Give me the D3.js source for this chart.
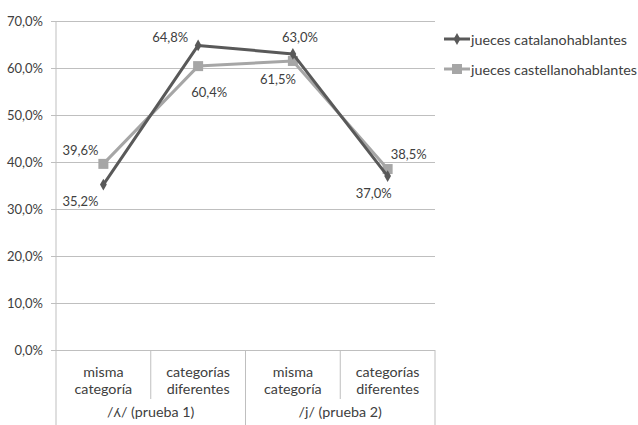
<!DOCTYPE html>
<html>
<head>
<meta charset="utf-8">
<script src="https://cdn.jsdelivr.net/npm/d3@7"></script>
<style>
  html, body { margin: 0; padding: 0; background: #fff; }
  svg { display: block; }
  text { font-family: Lato, "Open Sans", "Liberation Sans", sans-serif; fill: #404040; }
</style>
</head>
<body>
<svg id="chart" width="638" height="425"></svg>
<script>
// Categories: inner (condition) and outer (test) levels
const categories = ["misma categoría", "categorías diferentes", "misma categoría", "categorías diferentes"];
const groups = ["/ʎ/ (prueba 1)", "/j/ (prueba 2)"];
const seriesNames = ["jueces catalanohablantes", "jueces castellanohablantes"];
const catalanValues = [35.2, 64.8, 63.0, 37.0];
const castellanoValues = [39.6, 60.4, 61.5, 38.5];
const yTicks = [0, 10, 20, 30, 40, 50, 60, 70];

const svg = d3.select("#chart");
const plotLeft = 56, plotRight = 435, plotTop = 21, plotBottom = 350;
const wordSize = 14.3, numSize = 13;

const x = d3.scaleBand().domain(d3.range(categories.length)).range([plotLeft, plotRight]);
const y = d3.scaleLinear().domain([0, 70]).range([plotBottom, plotTop]);
const fmt = v => d3.format(".1f")(v).replace(".", ",") + "%";

// Horizontal gridlines and y tick labels
const yAxis = d3.axisLeft(y).tickValues(yTicks).tickSize(0).tickFormat(fmt);
const gy = svg.append("g").attr("transform", `translate(${plotLeft - 5},0)`).call(yAxis);
gy.select(".domain").remove();
gy.selectAll(".tick line").attr("stroke", "#bfbfbf").attr("x1", 0).attr("x2", plotRight - plotLeft + 5);
gy.selectAll(".tick text").attr("font-size", numSize).attr("fill", "#404040")
  .attr("font-family", "Lato, 'Open Sans', sans-serif").attr("x", -8);

// Vertical axis line and category separators
svg.append("line").attr("x1", plotLeft).attr("x2", plotLeft).attr("y1", plotTop).attr("y2", 425)
  .attr("stroke", "#bfbfbf");
d3.range(1, categories.length + 1).forEach(i => {
  const bx = x(i - 1) + x.bandwidth();
  const isGroupEdge = i % 2 === 0;
  svg.append("line").attr("x1", bx).attr("x2", bx)
    .attr("y1", plotBottom).attr("y2", isGroupEdge ? 425 : 399)
    .attr("stroke", "#bfbfbf");
});

// Inner category labels (two lines)
categories.forEach((c, i) => {
  const words = c.split(" ");
  const t = svg.append("text").attr("text-anchor", "middle").attr("font-size", wordSize)
    .attr("x", x(i) + x.bandwidth() / 2);
  words.forEach((w, k) => {
    t.append("tspan").attr("x", x(i) + x.bandwidth() / 2).attr("y", 376.5 + k * 17.5).text(w);
  });
});

// Outer group labels
groups.forEach((g, j) => {
  const gx = (x(j * 2) + x(j * 2 + 1) + x.bandwidth()) / 2;
  svg.append("text").attr("text-anchor", "middle").attr("font-size", wordSize)
    .attr("x", gx).attr("y", 417).text(g);
});

const cx = i => x(i) + x.bandwidth() / 2;
const line = d3.line().x((d, i) => cx(i)).y(d => y(d));

const series = [
  { name: seriesNames[1], values: castellanoValues, color: "#a6a6a6", marker: "square",
    labelOffsets: [[-23, -14], [11, 26], [-15, 18], [21, -15]] },
  { name: seriesNames[0], values: catalanValues, color: "#595959", marker: "diamond",
    labelOffsets: [[-23, 16], [-28, -8], [7, -17], [-14, 17]] }
];

function drawMarker(g, type, px, py, color) {
  if (type === "square") {
    g.append("rect").attr("x", px - 5).attr("y", py - 5).attr("width", 10).attr("height", 10)
      .attr("fill", color);
  } else {
    g.append("path").attr("d", d3.symbol().type(d3.symbolDiamond).size(40)())
      .attr("transform", `translate(${px},${py})`).attr("fill", color);
  }
}

series.forEach(s => {
  const g = svg.append("g");
  g.append("path").datum(s.values).attr("d", line).attr("fill", "none")
    .attr("stroke", s.color).attr("stroke-width", 3).attr("stroke-linejoin", "round");
  s.values.forEach((v, i) => drawMarker(g, s.marker, cx(i), y(v), s.color));
});

// Data labels
series.forEach(s => {
  s.values.forEach((v, i) => {
    const [dx, dy] = s.labelOffsets[i];
    svg.append("text").attr("text-anchor", "middle").attr("dominant-baseline", "central")
      .attr("font-size", numSize).attr("x", cx(i) + dx).attr("y", y(v) + dy).text(fmt(v));
  });
});

// Legend
const legendItems = [
  { name: seriesNames[0], color: "#595959", marker: "diamond" },
  { name: seriesNames[1], color: "#a6a6a6", marker: "square" }
];
legendItems.forEach((d, k) => {
  const ly = 39 + k * 30;
  const g = svg.append("g");
  g.append("line").attr("x1", 444).attr("x2", 470).attr("y1", ly).attr("y2", ly)
    .attr("stroke", d.color).attr("stroke-width", 3);
  drawMarker(g, d.marker, 457, ly, d.color);
  g.append("text").attr("x", 471).attr("y", ly).attr("dominant-baseline", "central")
    .attr("font-size", wordSize).text(d.name);
});
</script>
</body>
</html>
